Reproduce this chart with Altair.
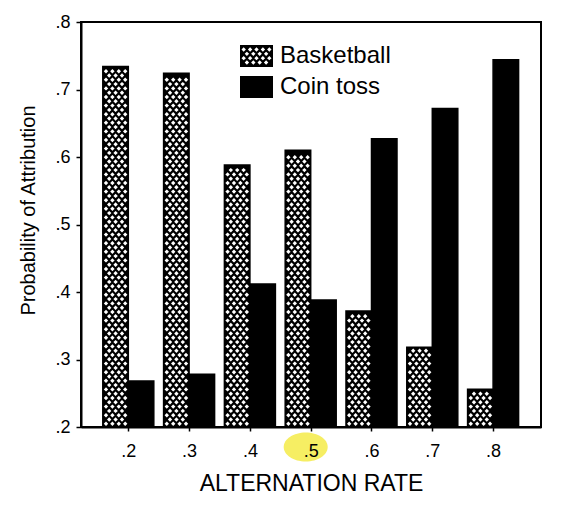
import altair as alt
import pandas as pd

# values
rates = [0.2, 0.3, 0.4, 0.5, 0.6, 0.7, 0.8]
basketball = [0.734, 0.724, 0.588, 0.610, 0.372, 0.318, 0.256]
coin_toss = [0.268, 0.278, 0.412, 0.388, 0.627, 0.672, 0.744]
series_names = ['Basketball', 'Coin toss']
y_ticks = [0.2, 0.3, 0.4, 0.5, 0.6, 0.7, 0.8]
highlighted = [0.5]

df = pd.DataFrame({
    'rate': rates * 2,
    'series': [series_names[0]] * len(rates) + [series_names[1]] * len(rates),
    'value': basketball + coin_toss,
})
hl = pd.DataFrame({'rate': highlighted})

# plot geometry (pixels)
W, H = 460, 405
x_dom = [0.1222, 0.8788]
y_dom = [0.2, 0.8]
XPX = W / (x_dom[1] - x_dom[0])
YPX = H / (y_dom[1] - y_dom[0])
BAR = 25.5 / XPX

# crosshatch geometry (pixels)
A = 6.4      # horizontal spacing of holes
DY = 4.3     # vertical spacing between staggered rows
EDGE = 3.2
HOLE = 2.2   # half-size of a diamond hole


def hatch_path(w=33, h=22):
    r = w / 2
    hh = h / 2 / r
    d = [f"M-1,{-hh:.4f}L1,{-hh:.4f}L1,{hh:.4f}L-1,{hh:.4f}Z"]
    nrows = 4
    for i in range(nrows):
        cy = (i - (nrows - 1) / 2) * DY
        n = 5 if i % 2 == 0 else 4
        for k in range(n):
            cx = (k - (n - 1) / 2) * A
            # counter-wound diamond -> hole
            d.append(
                f"M{cx / r:.4f},{(cy - HOLE) / r:.4f}"
                f"L{(cx - HOLE) / r:.4f},{cy / r:.4f}"
                f"L{cx / r:.4f},{(cy + HOLE) / r:.4f}"
                f"L{(cx + HOLE) / r:.4f},{cy / r:.4f}Z"
            )
    return ''.join(d)


solid_path = "M-1,-0.6667L1,-0.6667L1,0.6667L-1,0.6667Z"
ellipse_path = "M-1,0A1,0.66,0,1,0,1,0A1,0.66,0,1,0,-1,0Z"

font = 'Liberation Sans'

x_scale = alt.Scale(domain=x_dom, nice=False, zero=False)
y_scale = alt.Scale(domain=y_dom, nice=False, zero=False)
x_axis = alt.Axis(
    values=rates, labelExpr="substring(format(datum.value, '.1f'), 1)",
    title='ALTERNATION RATE', grid=False, zindex=1,
    domainColor='black', domainWidth=2, tickColor='black', tickWidth=1.5, tickSize=4,
    labelFontSize=18, labelPadding=11, labelColor='black',
    titleFontSize=23, titlePadding=12, titleColor='black', titleFontWeight='normal',
)
y_axis = alt.Axis(
    values=y_ticks, labelExpr="substring(format(datum.value, '.1f'), 1)",
    title='Probability of Attribution', grid=False,
    domainColor='black', domainWidth=2, tickColor='black', tickWidth=1.5, tickSize=5,
    labelFontSize=18, labelPadding=6, labelColor='black',
    titleFontSize=20, titlePadding=16, titleY=188, titleColor='black', titleFontWeight='normal',
)

highlight = alt.Chart(hl).mark_point(
    shape=ellipse_path, filled=True, color='#f6ee63', opacity=1, size=1936,
    xOffset=-5, yOffset=20,
).encode(
    x=alt.X('rate:Q', scale=x_scale, axis=x_axis),
    y=alt.datum(0.2, scale=y_scale, axis=y_axis),
)

bars = alt.Chart(df).transform_calculate(
    x0=f"datum.series == '{series_names[0]}' ? datum.rate - {BAR} : datum.rate",
    x1=f"datum.series == '{series_names[0]}' ? datum.rate : datum.rate + {BAR}",
).mark_bar(fill='black', stroke='black', strokeWidth=1.5, opacity=1).encode(
    x=alt.X('x0:Q', scale=x_scale, axis=x_axis),
    x2='x1:Q',
    y=alt.Y('value:Q', scale=y_scale, axis=y_axis),
    y2=alt.datum(0.2),
)

# white diamond holes on the Basketball bars -> crosshatch look
pattern = alt.Chart(df).transform_filter(
    f"datum.series == '{series_names[0]}'"
).transform_calculate(
    row=f"sequence(0, floor(((datum.value - {y_dom[0]}) * {YPX} - {2 * EDGE}) / {DY}) + 1)"
).transform_flatten(['row']).transform_calculate(
    col="datum.row % 2 == 0 ? sequence(0, 4) : sequence(0, 3)"
).transform_flatten(['col']).transform_calculate(
    px=f"datum.rate - {BAR} + ({EDGE} + datum.col * {A} + (datum.row % 2) * {A / 2}) / {XPX}",
    py=f"{y_dom[0]} + ({EDGE} + datum.row * {DY}) / {YPX}",
).mark_point(shape='diamond', filled=True, color='white', opacity=1, size=(2 * HOLE) ** 2).encode(
    x=alt.X('px:Q', scale=x_scale, axis=x_axis),
    y=alt.Y('py:Q', scale=y_scale, axis=y_axis),
)

legend_layer = alt.Chart(df).mark_point(filled=True, color='black', opacity=0).encode(
    x=alt.X('rate:Q', scale=x_scale, axis=x_axis),
    y=alt.Y('value:Q', scale=y_scale, axis=y_axis),
    shape=alt.Shape(
        'series:N',
        scale=alt.Scale(domain=series_names, range=[hatch_path(), solid_path]),
        legend=alt.Legend(
            title=None, orient='none', legendX=159, legendY=17.5, direction='vertical',
            symbolSize=1089, symbolStrokeWidth=0, symbolFillColor='black', symbolOpacity=1,
            labelFontSize=24, labelOffset=7, labelColor='black', rowPadding=2,
        ),
    ),
)

chart = alt.layer(highlight, bars, pattern, legend_layer).properties(
    width=W, height=H,
    autosize='none',
    padding={'left': 73, 'top': 14, 'right': 12, 'bottom': 70},
).configure(font=font).configure_view(stroke='black', strokeWidth=2)

chart.save('out.html', embed_options={'renderer': 'svg', 'actions': False})
